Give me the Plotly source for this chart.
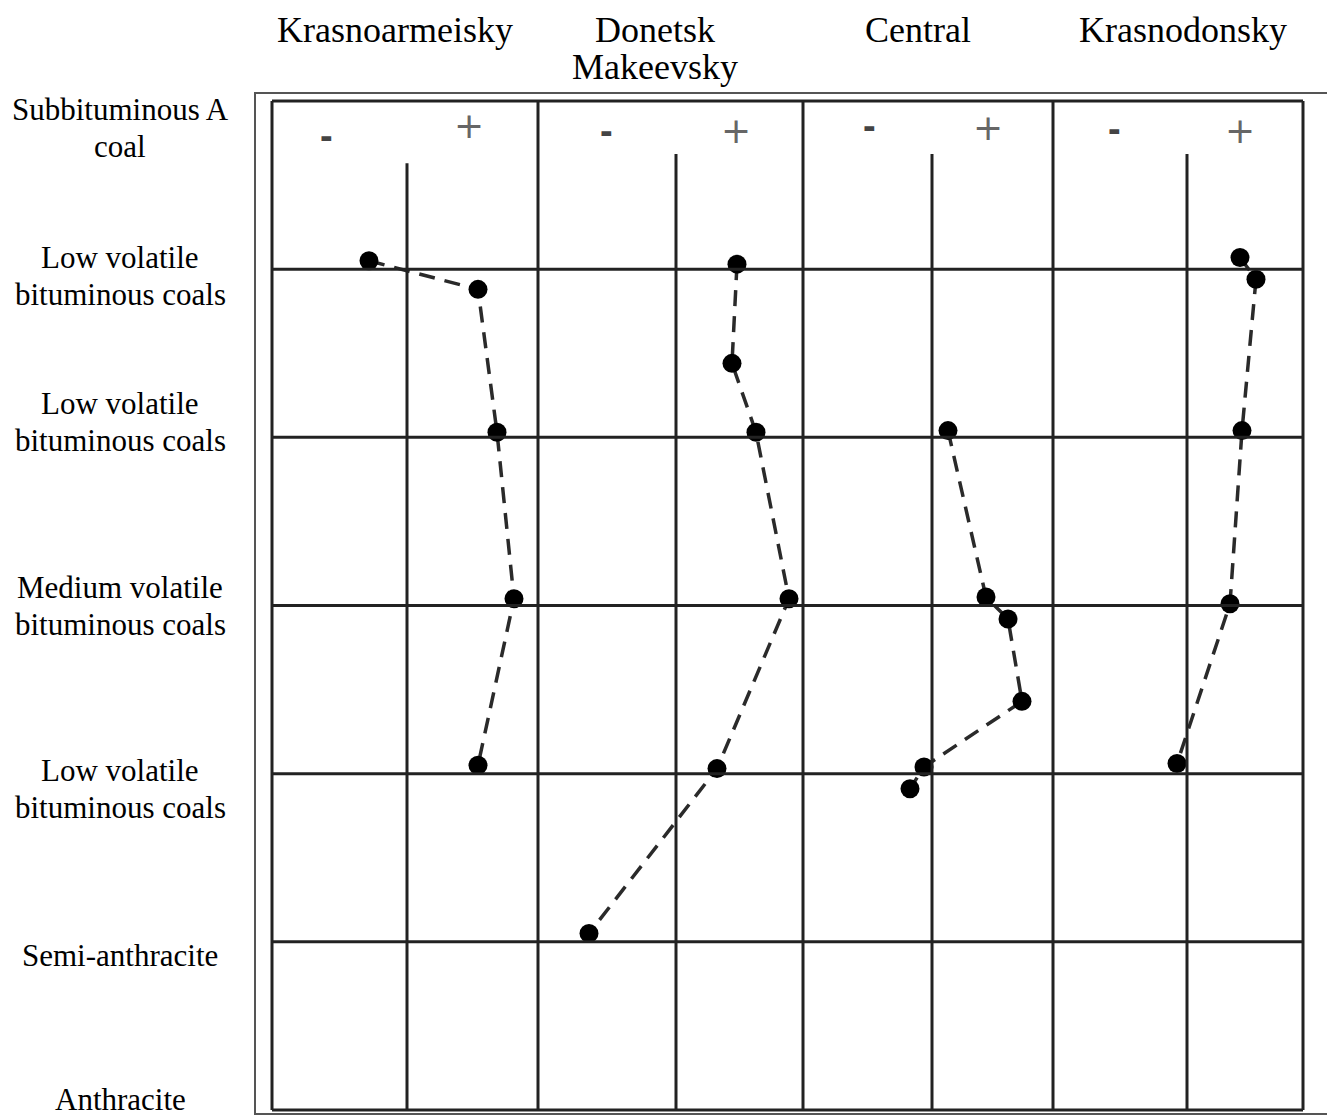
import plotly.graph_objects as go

# ---------------- data ----------------
basins = ["Krasnoarmeisky", "Donetsk<br>Makeevsky", "Central", "Krasnodonsky"]
rank_labels = ["Subbituminous A<br>coal", "Low volatile<br>bituminous coals",
               "Low volatile<br>bituminous coals", "Medium volatile<br>bituminous coals",
               "Low volatile<br>bituminous coals", "Semi-anthracite", "Anthracite"]
label_rows = [0.16, 1.04, 1.91, 3.0, 4.09, 5.08, 5.94]

kras_rank = [0.95, 1.12, 1.97, 2.96, 3.95]
kras_dev = [-1.52, 2.84, 3.6, 4.28, 2.84]
donetsk_rank = [0.97, 1.56, 1.97, 2.96, 3.97, 4.95]
donetsk_dev = [2.44, 2.24, 3.2, 4.52, 1.64, -3.48]
central_rank = [1.96, 2.95, 3.08, 3.57, 3.96, 4.09]
central_dev = [0.64, 2.16, 3.04, 3.6, -0.32, -0.88]
krasnodon_rank = [0.93, 1.06, 1.96, 2.99, 3.94]
krasnodon_dev = [2.12, 2.76, 2.2, 1.72, -0.4]

series_rank = [kras_rank, donetsk_rank, central_rank, krasnodon_rank]
series_dev = [kras_dev, donetsk_dev, central_dev, krasnodon_dev]

# ---------------- layout geometry ----------------
OFF = 8  # page body margin
W, H = 1335 - OFF, 1117 - OFF
ML, MT = 272 - OFF, 96 - OFF
PW, PH = 1031, 1019
MR = W - ML - PW
MB = H - MT - PH
col_edges = [0, 266 / PW, 531 / PW, 781 / PW, 1.0]
x_ranges = [[-5.4, 5.24], [-5.52, 5.08], [-5.16, 4.84], [-5.36, 4.64]]
zero_top = [0.37, 0.315, 0.315, 0.315]
n_rows = 6


def px_x(px):
    return (px - OFF - ML) / PW


def px_y(py):
    return (MT + PH - (py - OFF)) / PH


axes = ["x", "x2", "x3", "x4"]
fig = go.Figure()
for i in range(4):
    fig.add_trace(go.Scatter(
        x=series_dev[i], y=series_rank[i], xaxis=axes[i], yaxis="y",
        mode="lines+markers",
        line=dict(color="#2a2a2a", width=3.5, dash="16px,10px"),
        marker=dict(color="black", size=19),
        showlegend=False, hoverinfo="skip"))

layout = dict(
    width=W, height=H,
    margin=dict(l=ML, r=MR, t=MT, b=MB),
    paper_bgcolor="white", plot_bgcolor="white",
    yaxis=dict(range=[n_rows + 0.03, -0.03], visible=False),
)
for i in range(4):
    key = "xaxis" if i == 0 else f"xaxis{i+1}"
    layout[key] = dict(domain=[col_edges[i], col_edges[i + 1]], range=x_ranges[i],
                       anchor="y", visible=False)
fig.update_layout(**layout)

grid = dict(color="#222222", width=3)
shapes = []
for r in range(n_rows + 1):
    shapes.append(dict(type="line", xref="paper", yref="y", x0=0, x1=1, y0=r, y1=r, line=grid))
for e in col_edges:
    shapes.append(dict(type="line", xref="paper", yref="y", x0=e, x1=e, y0=0, y1=n_rows, line=grid))
for i in range(4):
    shapes.append(dict(type="line", xref=axes[i], yref="y", x0=0, x1=0,
                       y0=zero_top[i], y1=n_rows, line=grid))
# outer frame
shapes.append(dict(type="rect", xref="paper", yref="paper",
                   x0=px_x(255), x1=px_x(1330), y0=px_y(1114), y1=px_y(93),
                   line=dict(color="#555555", width=2)))
fig.update_layout(shapes=shapes)

serif = "Liberation Serif, Times New Roman, serif"
ann = []
# column headers
header_x = [395, 655, 918, 1183]
for name, px in zip(basins, header_x):
    lines = name.split("<br>")
    for k, ln in enumerate(lines):
        py = 30 + 37 * k
        ann.append(dict(text=ln, xref="paper", yref="paper",
                        x=px_x(px), y=px_y(py),
                        showarrow=False, xanchor="center", yanchor="middle",
                        font=dict(family=serif, size=36, color="black")))
# row labels
for lab, row in zip(rank_labels, label_rows):
    lines = lab.split("<br>")
    n = len(lines)
    for k, ln in enumerate(lines):
        shift = (n - 1) / 2 * 37 - 37 * k
        ann.append(dict(text=ln, xref="paper", yref="y", x=px_x(120), y=row,
                        yshift=shift, showarrow=False, xanchor="center", yanchor="middle",
                        font=dict(family=serif, size=31, color="black")))
# minus / plus signs
minus_pos = [(-3.24, 0.22), (-2.8, 0.19), (-2.52, 0.16), (-2.92, 0.18)]
plus_pos = [(2.48, 0.16), (2.4, 0.19), (2.24, 0.17), (2.12, 0.19)]
for i in range(4):
    ann.append(dict(text="<b>-</b>", xref=axes[i], yref="y", x=minus_pos[i][0], y=minus_pos[i][1],
                    showarrow=False, xanchor="center", yanchor="middle", yshift=2,
                    font=dict(family="Liberation Sans", size=38, color="#444444")))
    ann.append(dict(text="+", xref=axes[i], yref="y", x=plus_pos[i][0], y=plus_pos[i][1],
                    showarrow=False, xanchor="center", yanchor="middle", yshift=2,
                    font=dict(family="DejaVu Sans", size=36, color="#666666")))
fig.update_layout(annotations=ann)

fig.write_html("out.html")
